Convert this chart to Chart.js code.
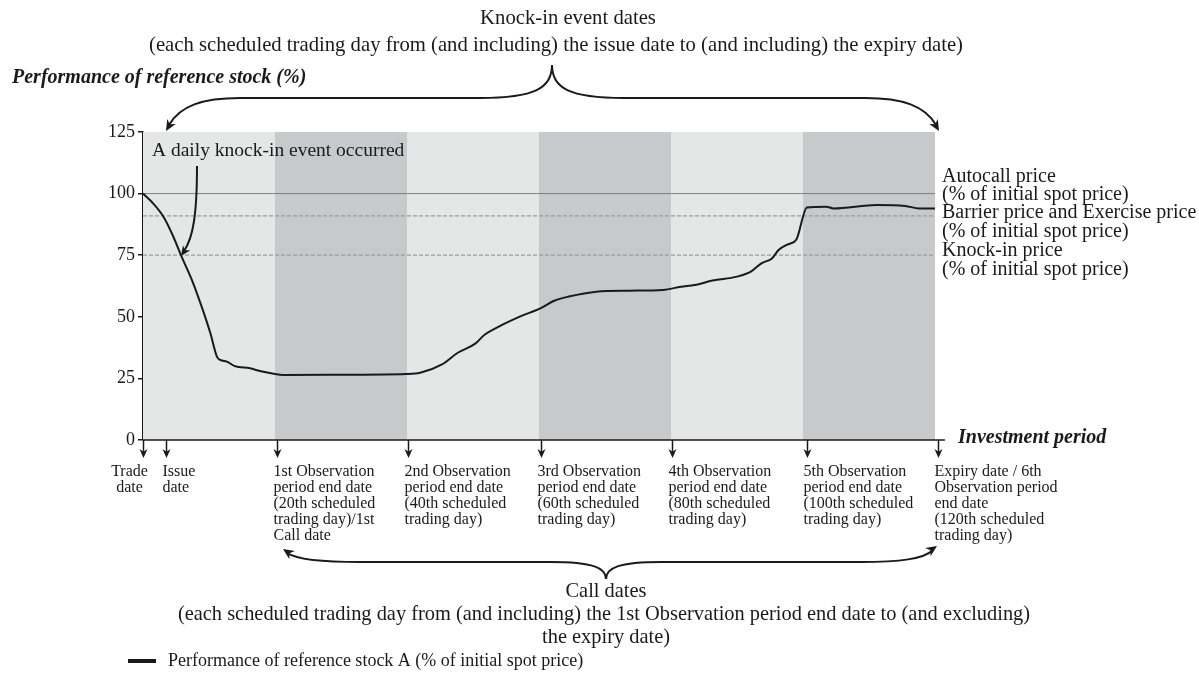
<!DOCTYPE html>
<html>
<head>
<meta charset="utf-8">
<script src="https://cdn.jsdelivr.net/npm/chart.js@4/dist/chart.umd.min.js"></script>
<style>
html,body{margin:0;padding:0;background:#fff;}
#wrap{width:1199px;height:679px;position:relative;}
</style>
</head>
<body>
<div id="wrap"><canvas id="c" width="1199" height="679"></canvas></div>
<script>
// ---- data ----
const tradingDays = [0, 1.3, 3.1, 4.6, 5.8, 7.4, 8.9, 10.2, 11.2, 11.7, 12.7, 13.9, 16.2, 17.7, 20, 21.2, 30, 39.8, 42, 45.3, 47.7, 50.4, 51.7, 54.4, 57, 60.2, 62.3, 64.5, 68.7, 73.5, 78.8, 81.5, 83.6, 86.3, 90, 92.1, 93.7, 95.3, 96.3, 97.7, 99, 100.6, 103.5, 104.6, 111.2, 115.5, 117.6, 120];
const stockPerformance = [100, 96.7, 90.6, 82.5, 74.7, 65, 54, 43.4, 33.8, 32.5, 31.8, 30, 29.1, 28, 26.8, 26.4, 26.5, 26.8, 27.3, 30.7, 35.4, 39.2, 42.6, 46.7, 50, 53.4, 56.5, 58.2, 60.2, 60.6, 60.9, 62.2, 62.9, 64.7, 66.3, 68.3, 71.7, 73.7, 77.1, 79.4, 81.4, 94.4, 94.7, 94.0, 95.4, 95.0, 94.0, 94.0];
const autocallLevel = 100;
const barrierLevel = 91;
const knockInLevel = 75;
const yTickValues = [0, 25, 50, 75, 100, 125];
const observationEdges = [0, 20, 40, 60, 80, 100, 120];
const markerDays = [0, 3.5, 20.3, 40.2, 60.3, 80.2, 100.6, 120.5];
const markerLabels = [
  ["Trade", "date"],
  ["Issue", "date"],
  ["1st Observation", "period end date", "(20th scheduled", "trading day)/1st", "Call date"],
  ["2nd Observation", "period end date", "(40th scheduled", "trading day)"],
  ["3rd Observation", "period end date", "(60th scheduled", "trading day)"],
  ["4th Observation", "period end date", "(80th scheduled", "trading day)"],
  ["5th Observation", "period end date", "(100th scheduled", "trading day)"],
  ["Expiry date / 6th", "Observation period", "end date", "(120th scheduled", "trading day)"]
];
const levelLabels = [
  "Autocall price", "(% of initial spot price)",
  "Barrier price and Exercise price", "(% of initial spot price)",
  "Knock-in price", "(% of initial spot price)"
];
const topTitle = ["Knock-in event dates", "(each scheduled trading day from (and including) the issue date to (and including) the expiry date)"];
const bottomTitle = ["Call dates", "(each scheduled trading day from (and including) the 1st Observation period end date to (and excluding)", "the expiry date)"];
const yAxisTitle = "Performance of reference stock (%)";
const xAxisTitle = "Investment period";
const knockInNote = "A daily knock-in event occurred";
const legendLabel = "Performance of reference stock A (% of initial spot price)";

// ---- helpers ----
const SERIF = '"Liberation Serif", "Times New Roman", serif';
const INK = '#1a1a1a';
function arrowHead(ctx, x, y, angle, size) {
  ctx.save();
  ctx.translate(x, y);
  ctx.rotate(angle);
  ctx.beginPath();
  ctx.moveTo(0, 0);
  ctx.lineTo(-size, -size * 0.45);
  ctx.lineTo(-size * 0.7, 0);
  ctx.lineTo(-size, size * 0.45);
  ctx.closePath();
  ctx.fill();
  ctx.restore();
}

const decorPlugin = {
  id: 'decor',
  beforeDatasetsDraw(chart) {
    const ctx = chart.ctx, xs = chart.scales.x, a = chart.chartArea;
    ctx.save();
    for (let i = 0; i < observationEdges.length - 1; i++) {
      const x0 = xs.getPixelForValue(observationEdges[i]);
      const x1 = xs.getPixelForValue(observationEdges[i + 1]);
      ctx.fillStyle = i % 2 === 0 ? '#e5e6e6' : '#c7c9cb';
      ctx.fillRect(x0, a.top, x1 - x0, a.bottom - a.top);
    }
    ctx.restore();
  },
  afterDraw(chart) {
    const ctx = chart.ctx, xs = chart.scales.x, a = chart.chartArea;
    ctx.save();
    ctx.fillStyle = INK;
    ctx.strokeStyle = INK;

    // x axis line
    ctx.lineWidth = 1.5;
    ctx.beginPath();
    ctx.moveTo(a.left, a.bottom);
    ctx.lineTo(xs.getPixelForValue(121.5), a.bottom);
    ctx.stroke();

    // markers below x axis
    ctx.font = '16px ' + SERIF;
    ctx.textBaseline = 'middle';
    markerDays.forEach((d, i) => {
      const px = Math.round(xs.getPixelForValue(d)) + 0.5;
      ctx.lineWidth = 1.5;
      ctx.beginPath();
      ctx.moveTo(px, a.bottom);
      ctx.lineTo(px, a.bottom + 13);
      ctx.stroke();
      arrowHead(ctx, px, a.bottom + 18, Math.PI / 2, 9);
      const lines = markerLabels[i];
      lines.forEach((t, j) => {
        if (i === 0) {
          ctx.textAlign = 'center';
          ctx.fillText(t, px - 14, 472 + j * 16);
        } else {
          ctx.textAlign = 'left';
          ctx.fillText(t, px - 4, 472 + j * 16);
        }
      });
    });

    // x axis title
    ctx.font = 'italic bold 20px ' + SERIF;
    ctx.textAlign = 'left';
    ctx.fillText(xAxisTitle, 958, 438);

    // y axis title
    ctx.fillText(yAxisTitle, 12, 78);

    // level labels on the right
    ctx.font = '20px ' + SERIF;
    const levelY = [177, 195, 213, 232, 251, 270];
    levelLabels.forEach((t, i) => ctx.fillText(t, 942, levelY[i]));

    // knock-in note and arrow
    ctx.font = '19.5px ' + SERIF;
    ctx.fillText(knockInNote, 152, 151);
    ctx.lineWidth = 2;
    ctx.beginPath();
    ctx.moveTo(197, 166);
    ctx.bezierCurveTo(197, 215, 193, 238, 184, 251);
    ctx.stroke();
    arrowHead(ctx, 181, 256, Math.atan2(13, -9), 10);

    // top title
    ctx.font = '20.7px ' + SERIF;
    ctx.textAlign = 'center';
    ctx.fillText(topTitle[0], 568, 19);
    ctx.fillText(topTitle[1], 556, 46);

    // top brace
    ctx.lineWidth = 2;
    ctx.beginPath();
    ctx.moveTo(169, 125);
    ctx.bezierCurveTo(180, 106, 202, 98, 240, 98);
    ctx.lineTo(480, 98);
    ctx.bezierCurveTo(535, 98, 552, 88, 552, 65);
    ctx.bezierCurveTo(552, 88, 569, 98, 624, 98);
    ctx.lineTo(865, 98);
    ctx.bezierCurveTo(903, 98, 925, 106, 936, 125);
    ctx.stroke();
    arrowHead(ctx, 166, 131, Math.atan2(19, -11), 11);
    arrowHead(ctx, 939, 131, Math.atan2(19, 11), 11);

    // bottom brace
    ctx.beginPath();
    ctx.moveTo(287, 553);
    ctx.bezierCurveTo(298, 560, 322, 562, 360, 562);
    ctx.lineTo(550, 562);
    ctx.bezierCurveTo(594, 562, 606, 568, 606, 579);
    ctx.bezierCurveTo(606, 568, 618, 562, 662, 562);
    ctx.lineTo(860, 562);
    ctx.bezierCurveTo(900, 562, 924, 559, 933, 550);
    ctx.stroke();
    arrowHead(ctx, 283, 549, Math.atan2(-8, -12), 11);
    arrowHead(ctx, 937, 546, Math.atan2(-8, 12), 11);

    // bottom title
    ctx.font = '20.4px ' + SERIF;
    ctx.fillText(bottomTitle[0], 606, 592);
    ctx.fillText(bottomTitle[1], 604, 615);
    ctx.fillText(bottomTitle[2], 606, 638);

    // legend
    ctx.font = '18px ' + SERIF;
    ctx.fillRect(128, 659, 28, 4);
    ctx.textAlign = 'left';
    ctx.fillText(legendLabel, 168, 661);

    ctx.restore();
  }
};

const levelLine = (v) => [{x: 0, y: v}, {x: 120, y: v}];

new Chart(document.getElementById('c'), {
  type: 'line',
  data: {
    datasets: [
      {
        label: legendLabel,
        data: tradingDays.map((d, i) => ({x: d, y: stockPerformance[i]})),
        borderColor: INK,
        borderWidth: 2,
        pointRadius: 0,
        tension: 0.25,
        cubicInterpolationMode: 'monotone'
      },
      {
        label: 'Autocall price',
        data: levelLine(autocallLevel),
        borderColor: '#7d7d7d',
        borderWidth: 1,
        pointRadius: 0
      },
      {
        label: 'Barrier price',
        data: levelLine(barrierLevel),
        borderColor: '#9a9a9a',
        borderWidth: 1.2,
        borderDash: [4, 2],
        pointRadius: 0
      },
      {
        label: 'Knock-in price',
        data: levelLine(knockInLevel),
        borderColor: '#9a9a9a',
        borderWidth: 1.2,
        borderDash: [4, 2],
        pointRadius: 0
      }
    ]
  },
  options: {
    responsive: false,
    animation: false,
    layout: {padding: {top: 132, left: 103, right: 264, bottom: 239}},
    plugins: {legend: {display: false}, tooltip: {enabled: false}, title: {display: false}},
    scales: {
      x: {type: 'linear', min: 0, max: 120, display: false},
      y: {
        min: 0, max: 125,
        afterFit(scale) { scale.width = 40; },
        afterBuildTicks(scale) { scale.ticks = yTickValues.map(v => ({value: v})); },
        border: {display: true, color: INK, width: 1.5},
        grid: {drawOnChartArea: false, drawTicks: true, tickLength: 5, color: INK, lineWidth: 1.5},
        ticks: {font: {family: SERIF, size: 18}, color: INK, padding: 3}
      }
    }
  },
  plugins: [decorPlugin]
});
</script>
</body>
</html>
